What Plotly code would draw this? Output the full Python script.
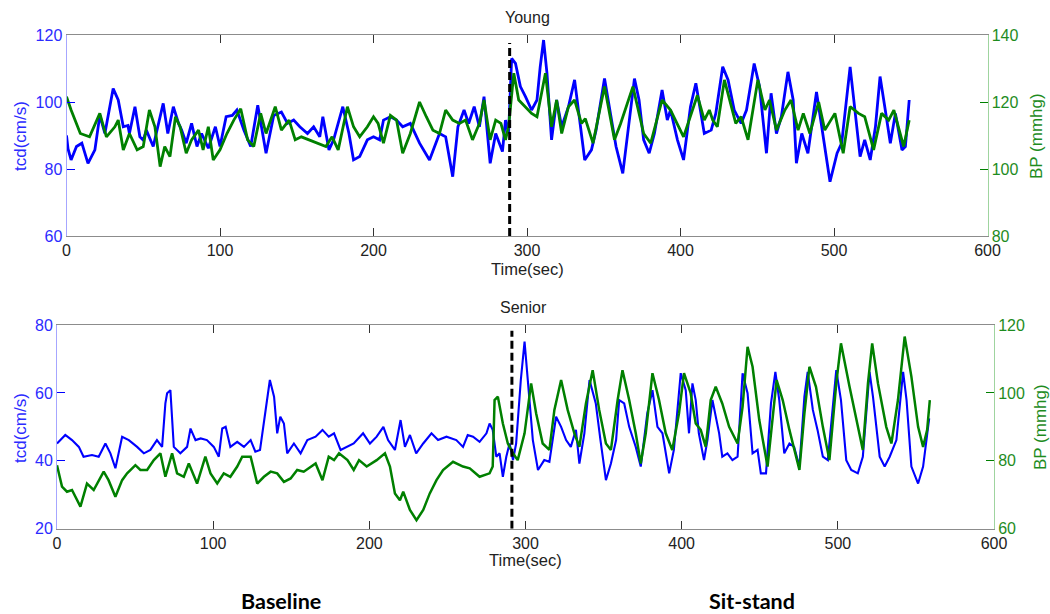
import plotly.graph_objects as go

# ---------------- data ----------------
young_tcd_t = [0, 1, 3, 6.5, 10, 14, 18.5, 21.7, 25, 30.4, 33.7, 37, 40, 41, 44.6, 47.8, 50, 52, 56.5, 63, 66, 69.6, 73, 75, 78,
               81.5, 85, 88, 92.4, 97, 100, 104, 108, 111, 115.6, 120, 124.6, 127, 130, 135, 140, 144, 148, 152, 157, 161, 165,
               167, 171, 174, 180, 184, 187, 191, 196, 200, 204, 206.5, 211, 215, 219, 224, 230, 236.5, 243, 247, 251.6, 255,
               259, 262, 265.6, 269, 272, 276, 279.6, 284, 286, 288, 290, 292.5, 295.7, 299, 303, 306.5, 308.6, 310.8, 313,
               316, 319.3, 322.6, 327, 331, 334.4, 337.6, 342, 345, 350.5, 353.8, 358, 362.4, 365.6, 370, 373, 376, 379.6,
               383, 388, 391.4, 393.5, 398, 402, 406.5, 410, 413, 415.5, 420, 423, 427.5, 431, 435, 439.5, 443, 448, 451.5,
               456, 459, 462.5, 465.7, 470, 473.4, 475.5, 479, 483, 488.6, 492, 497.4, 502, 505, 510.5, 514, 517, 520, 523.6,
               527, 530, 533.4, 536.7, 540, 544.3, 546.5, 549]
young_tcd = [90, 86, 82.7, 86.7, 87.7, 81.7, 85.7, 96, 90.6, 104, 100.6, 92.6, 93, 90.6, 98.6, 89.6, 88.6, 91.6, 86.7, 99.6,
             90.6, 98.6, 93.6, 91.6, 87.7, 93.6, 86.7, 90.6, 86.2, 92.6, 86.7, 95.6, 96, 97.6, 91.6, 86.7, 99, 92.6, 84.7, 96,
             97, 93.6, 94.6, 92.6, 90.6, 92.6, 89.6, 95.6, 85.7, 88.7, 98.6, 90.6, 82.7, 83.7, 88.7, 89.6, 88.7, 94.6, 95.6,
             94.6, 92.6, 93.6, 87.7, 82.7, 90.6, 89.6, 77.7, 92.6, 97.6, 93.6, 98.6, 92.6, 101.6, 81.7, 90.6, 85.2, 94.6, 90.6,
             113, 111.5, 104.6, 101.6, 97.6, 100.6, 110.5, 118.5, 108.6, 88.7, 100.6, 92.6, 98.6, 106.6, 94.6, 82.7, 85.7,
             91.6, 107, 97.6, 86.7, 78.7, 90.6, 107, 100.6, 88.7, 84.7, 90.6, 103.6, 94.6, 97.6, 88.7, 82.7, 98.6, 105.6, 97.6,
             90.6, 91.6, 96.6, 110.5, 106.6, 97.6, 93.6, 97.6, 111.5, 104.6, 84.7, 102.6, 90.6, 95.6, 109, 100.6, 81.7, 90.6,
             84.7, 103, 92.6, 76.2, 84.7, 87.7, 110.5, 96.6, 83.7, 88.7, 82.7, 92.6, 107.6, 97.6, 87.7, 96.6, 85.7, 86.7, 100.6]

young_bp_t = [0, 3, 9, 15, 21.7, 26, 31.5, 33.7, 37, 41, 46, 50, 54, 57.6, 61, 64, 67.4, 71, 74, 78, 81.5, 86, 89, 92.4, 95.6,
              100, 104.5, 109, 113.5, 118, 122, 126.5, 130, 136, 140, 145, 149, 153, 158, 163, 169, 173, 177, 183, 187, 191,
              196, 200, 203, 206.5, 211, 215, 219, 224, 230, 234.4, 238.7, 243, 247, 251.6, 256, 260, 264.5, 269, 272, 276,
              279.6, 283, 286, 288, 291.4, 294.6, 299, 303, 306.5, 308.6, 312, 316, 319.3, 322.6, 327, 331, 335.5, 338, 343,
              350.5, 357, 361, 369, 376, 380.6, 388, 393.5, 402, 406, 411, 415.5, 418.8, 421, 424, 428.6, 433, 436, 439.5,
              444, 450.4, 455, 458, 462.5, 468, 472, 476.6, 480, 484.3, 490, 494, 500.6, 506, 510.5, 516, 520, 525.8, 531,
              535.6, 539, 545.4, 549]
young_bp = [121.6, 117.6, 110.6, 109.6, 116.6, 109.6, 112.6, 114.6, 105.7, 110.6, 105.7, 106.7, 117.6, 112.6, 100.7, 106.7,
            103.7, 115.6, 112.6, 104.7, 108.7, 111.6, 105.7, 112.6, 102.7, 105.7, 110.6, 114.6, 118, 108.7, 106.7, 116.6,
            110.6, 118.6, 111.6, 114.6, 108.7, 109.6, 108.7, 107.7, 106.7, 109.6, 105.7, 118.6, 112.6, 109.6, 112.6, 115.6,
            113.6, 107.7, 116, 114.6, 104.7, 110.6, 120, 115.6, 111.6, 110.6, 117.6, 114.6, 113.6, 114.6, 108.7, 113.6, 120.6,
            108.7, 114.6, 113.6, 108.7, 112.6, 128.6, 120.6, 118.6, 116.6, 115.6, 120.6, 128.6, 112.6, 120.6, 110.6, 118.6,
            120.6, 113.6, 115, 107.7, 124.6, 108.7, 113.6, 124.6, 110.6, 107.7, 120.6, 117.6, 109.6, 115, 122, 114.6, 117.6,
            114.6, 112.6, 126.6, 118.6, 113.6, 115.6, 108.7, 126.6, 117.6, 120.6, 111.6, 117.6, 120.6, 111.6, 116.6, 110.6,
            120, 111.6, 116.6, 104.7, 118.6, 116.6, 115.6, 105.7, 116.6, 114.6, 117.6, 106.7, 114.6]

senior_tcd_t = [0, 5.3, 9.6, 14, 17, 22.4, 26.7, 31, 34.2, 37.4, 41.7, 46, 51.3, 55.6, 59.8, 64, 67.3, 69.4, 70.5, 72.6, 74.8,
                79, 83.3, 85.5, 88.7, 92, 96, 100.4, 103.6, 105.8, 108, 111, 115.4, 119.7, 124, 127, 130, 133.5, 136.3, 139,
                141, 143, 145.3, 147.4, 151.7, 156, 160.3, 165.6, 170, 174, 177.4, 181.6, 186, 190, 196, 200.4, 204.7, 209,
                212, 216.4, 220, 222.8, 226, 230, 234.5, 239.8, 244, 249.4, 255.7, 260, 263, 266.4, 270.6, 275, 277, 279,
                281.3, 283.4, 285.5, 287.7, 289.8, 292, 294, 297, 299.4, 301.5, 304.7, 308, 312, 315.3, 319.6, 322.8, 326,
                329, 332.3, 334.5, 337.7, 341, 345, 348, 351.5, 354.7, 358, 360, 363.2, 366.4, 370.6, 373.8, 378, 381.3,
                384.5, 387.7, 392, 395, 399.4, 402.6, 404.7, 406.9, 409, 411, 414.3, 416.5, 419.7, 424, 426, 429.3, 432.5,
                435.8, 439, 442.2, 445.4, 448.6, 450.7, 454, 457.2, 460, 462.5, 465.7, 469, 472, 475.4, 478.6, 480.7, 484,
                487, 490.4, 493.6, 499, 502, 505.4, 508.6, 512.8, 516, 520.3, 522.5, 526.8, 530, 533.2, 537.5, 541.8, 544,
                547.1, 551.4, 554.6, 558.5]
senior_tcd = [45.1, 47.6, 46.1, 44.1, 41.2, 41.7, 41.2, 45.1, 42.2, 37.8, 47.1, 46.1, 44.1, 42.2, 43.2, 46.1, 44.1, 56.9, 59.9,
              60.8, 44.1, 42.2, 44.1, 49.5, 46.1, 46.6, 46.1, 44.1, 41.2, 49.5, 50, 44.1, 45.6, 44.1, 46.1, 42.7, 43.2, 54,
              63.8, 58.9, 48.1, 53, 51, 42.2, 45.1, 42.2, 46.1, 47.1, 49.1, 47.1, 48.1, 43.2, 44.1, 45.1, 48.1, 45.1, 47.1,
              50, 46.1, 43.2, 52, 44.1, 47.6, 42.2, 45.1, 48.1, 46.1, 47.1, 46.1, 44.1, 47.6, 47.1, 45.6, 48.1, 51, 49.1,
              41.2, 42.2, 35.3, 41.2, 45.1, 40.2, 45.1, 63.8, 75.1, 62.8, 46.1, 37.3, 40.2, 39.7, 53, 50, 46.1, 44.1, 49.1,
              39.2, 48.1, 63.8, 56.9, 46.1, 34.3, 39.2, 46.1, 57.9, 56.9, 50, 44.1, 38.3, 54, 60.8, 50, 48.1, 36.3, 43.2,
              65.8, 60.8, 48.1, 62.8, 57.9, 48.1, 40.2, 46.1, 57.9, 48.1, 41.2, 42.2, 40.2, 41.2, 65.8, 59.9, 42.2, 43.2,
              36.3, 36.3, 56.9, 66.2, 57.9, 42.2, 45.1, 44.1, 38.3, 58.9, 66.2, 55, 49.1, 41.2, 40.2, 66.7, 57.9, 40.2,
              37.3, 36.3, 41.2, 66.2, 58.9, 41.2, 38.3, 41.2, 46.1, 66.2, 57.9, 38.3, 33.3, 38.3, 52.5]

senior_bp_t = [0, 3.2, 6.4, 9.6, 15, 19.2, 23.5, 29.9, 33, 37.4, 41.7, 44.9, 50.2, 53.4, 57.7, 62, 66.2, 69.4, 73.7, 76.9,
               81.2, 84.4, 89.7, 95, 98.3, 102.6, 106.8, 111, 115.4, 118.6, 124, 128.2, 132.5, 136.8, 141, 145.3, 149.6,
               153.8, 158, 162.4, 165.6, 170, 174, 177.4, 180.6, 186, 190, 193.4, 198.3, 204.7, 210, 213.2, 216.4, 219.6,
               221.7, 226, 230.2, 234.5, 238.7, 243, 247.2, 253.6, 260, 264.3, 270.6, 277, 279, 280.2, 282.3, 285.5, 288.7,
               292, 295, 299.4, 303.6, 306.8, 311, 315.3, 318.5, 322.8, 327, 331.3, 334.5, 338.7, 343, 347.2, 351.5, 354.7,
               359, 362.1, 366.4, 370.6, 373.8, 377, 381.3, 385.5, 389.8, 394, 398.3, 401.5, 405.7, 409, 412.2, 415.4,
               418.6, 421.8, 426, 430.4, 435.8, 439, 442.2, 445.4, 449.7, 455, 458.2, 460.8, 464.7, 469, 475.4, 478.6,
               481.8, 486, 490.4, 494.6, 499, 502, 507.5, 511.8, 516, 519.3, 522, 525.7, 531, 534.3, 538.5, 542.8, 547.1,
               551.4, 554.6, 557.2, 558.9]
senior_bp = [78.7, 72.4, 70.9, 71.4, 66.5, 73.3, 71.4, 76.8, 74.3, 69.4, 74.3, 76.3, 78.7, 77.3, 77.3, 80.2, 82.2, 75.3, 82.2,
             76.3, 75.3, 79.2, 73.3, 81.2, 76.3, 73.3, 76.3, 75.3, 78.3, 81.2, 81.2, 73.3, 75.3, 76.8, 76.3, 73.8, 74.8, 77.3,
             76.8, 78.3, 79.2, 74.3, 81.2, 80.2, 82.2, 80.2, 77.3, 80.2, 78.3, 80.2, 82.2, 78.3, 70.4, 68.4, 70.9, 65.5, 62.5,
             65.5, 70.4, 74.3, 77.3, 79.7, 78.3, 77.8, 75.3, 76.3, 78.3, 97.9, 98.9, 91, 85.1, 82.2, 80.2, 88.1, 102.8, 94,
             85.1, 83.2, 95, 103.8, 95, 88.1, 84.1, 96.9, 106.7, 95, 85.1, 83.2, 97.9, 106.7, 97.9, 88.1, 79.2, 88.1, 105.8,
             97.9, 88.1, 83.2, 94, 105.8, 100, 91, 89.1, 84.1, 97.9, 101.8, 96.9, 90, 85.1, 95.9, 113.6, 107.7, 92, 78.3, 93,
             103.8, 97.9, 89.1, 77.3, 94, 107.7, 101.8, 90, 80.2, 102.8, 114.6, 101.8, 92, 83.2, 102.8, 114.6, 102.8, 90,
             85.1, 97.9, 116.6, 104.8, 90, 84.1, 89.1, 97.9]

time_ticks = [0, 100, 200, 300, 400, 500, 600]
young_tcd_ticks = [60, 80, 100, 120]
young_bp_ticks = [80, 100, 120, 140]
senior_tcd_ticks = [20, 40, 60, 80]
senior_bp_ticks = [60, 80, 100, 120]

young_switch = (288.7, 117.6)   # time of posture change, top of marker (tcd units)
senior_switch = (291.3, 78.3)

# ---------------- styling ----------------
W, H = 1050, 614
BLUE = "#0000ff"
GREEN = "#008000"
FONT = "Liberation Sans, Arial, sans-serif"


def xdom(a, b):
    return [a / W, b / W]


def ydom(top, bottom):
    return [1 - bottom / H, 1 - top / H]


fig = go.Figure()
fig.add_trace(go.Scatter(x=young_tcd_t, y=young_tcd, mode="lines", line=dict(color=BLUE, width=2.8),
                         xaxis="x", yaxis="y", showlegend=False, hoverinfo="skip"))
fig.add_trace(go.Scatter(x=young_bp_t, y=young_bp, mode="lines", line=dict(color=GREEN, width=2.8),
                         xaxis="x", yaxis="y2", showlegend=False, hoverinfo="skip"))
fig.add_trace(go.Scatter(x=senior_tcd_t, y=senior_tcd, mode="lines", line=dict(color=BLUE, width=2.1),
                         xaxis="x2", yaxis="y3", showlegend=False, hoverinfo="skip"))
fig.add_trace(go.Scatter(x=senior_bp_t, y=senior_bp, mode="lines", line=dict(color=GREEN, width=2.5),
                         xaxis="x2", yaxis="y4", showlegend=False, hoverinfo="skip"))

xcommon = dict(range=[0, 600], tickvals=time_ticks, ticks="inside", ticklen=8, tickcolor="#333333",
               showline=True, linecolor="#8c8c8c", linewidth=1, mirror="ticks", showgrid=False, zeroline=False,
               automargin=False, tickfont=dict(family=FONT, size=16, color="#222222"), fixedrange=True)
ylcommon = dict(ticks="inside", ticklen=8, tickcolor=BLUE, showline=True, linecolor="#a6a6ff", linewidth=1,
                showgrid=False, zeroline=False, automargin=False, fixedrange=True,
                tickfont=dict(family=FONT, size=16, color="#2b2bff"))
yrcommon = dict(ticks="inside", ticklen=8, tickcolor=GREEN, showline=True, linecolor="#9fd49f", linewidth=1,
                showgrid=False, zeroline=False, automargin=False, fixedrange=True,
                tickfont=dict(family=FONT, size=16, color="#1e8c1e"), side="right")

fig.update_layout(
    template=None,
    width=W, height=H, autosize=False,
    margin=dict(l=0, r=0, t=0, b=0, pad=0),
    paper_bgcolor="white", plot_bgcolor="white",
    showlegend=False,
    xaxis=dict(domain=xdom(66.5, 987.5), anchor="y", **xcommon),
    yaxis=dict(domain=ydom(35, 236), anchor="x", range=[60, 120], tickvals=young_tcd_ticks, **ylcommon),
    yaxis2=dict(overlaying="y", anchor="x", range=[80, 140], tickvals=young_bp_ticks, **yrcommon),
    xaxis2=dict(domain=xdom(57, 994), anchor="y3", **xcommon),
    yaxis3=dict(domain=ydom(325, 528.7), anchor="x2", range=[20, 80], tickvals=senior_tcd_ticks, **ylcommon),
    yaxis4=dict(overlaying="y3", anchor="x2", range=[60, 120], tickvals=senior_bp_ticks, **yrcommon),
)

# posture-change markers
fig.add_shape(type="line", xref="x", yref="y", x0=young_switch[0], x1=young_switch[0], y0=60, y1=young_switch[1],
              line=dict(color="black", width=3, dash="8px,4px"))
fig.add_shape(type="line", xref="x2", yref="y3", x0=senior_switch[0], x1=senior_switch[0], y0=20, y1=senior_switch[1],
              line=dict(color="black", width=3, dash="8px,4px"))


def ann(text, x, y, size=16, color="#222222", angle=0, family=FONT, bold=False):
    fig.add_annotation(text=f"<b>{text}</b>" if bold else text, x=x / W, y=1 - y / H, xref="paper", yref="paper",
                       showarrow=False, textangle=angle, xanchor="center", yanchor="middle",
                       font=dict(family=family, size=size, color=color))


ann("Young", 527, 17, size=16)
ann("Senior", 523, 307, size=16)
ann("Time(sec)", 527, 269, size=16.5)
ann("Time(sec)", 525, 560, size=16.5)
ann("tcd(cm/s)", 20, 136, size=17, color="#2b2bff", angle=-90)
ann("tcd(cm/s)", 20, 428, size=17, color="#2b2bff", angle=-90)
ann("BP (mmhg)", 1036, 136, size=17, color="#1e8c1e", angle=-90)
ann("BP (mmhg)", 1040, 427, size=17, color="#1e8c1e", angle=-90)
ann("Baseline", 281, 601, size=21.5, color="#000000", family="Lato, Carlito, sans-serif", bold=True)
ann("Sit-stand", 752, 601, size=21.5, color="#000000", family="Lato, Carlito, sans-serif", bold=True)

fig.write_html("out.html", config={"displayModeBar": False, "staticPlot": True},
               post_script="document.body.style.margin='0';document.body.style.overflow='hidden';")
